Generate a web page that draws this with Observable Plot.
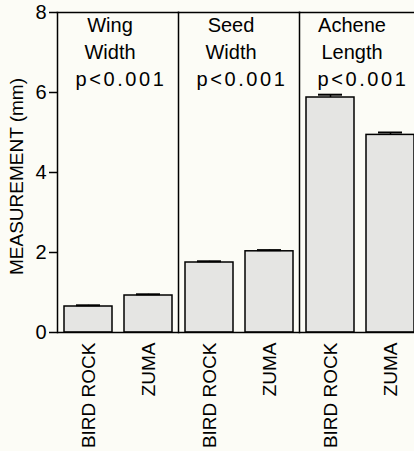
<!DOCTYPE html>
<html><head><meta charset="utf-8">
<script src="https://cdn.jsdelivr.net/npm/d3@7"></script>
<script src="https://cdn.jsdelivr.net/npm/@observablehq/plot@0.6"></script>
<style>
html,body{margin:0;padding:0;background:#fcfcf6;overflow:hidden}
#chart{width:414px;height:451px;overflow:hidden;position:relative}
#chart svg{max-width:none !important;height:451px !important;display:block}
</style></head><body><div id="chart"></div>
<script>
const panels = ["Wing\nWidth\np<0.001", "Seed\nWidth\np<0.001", "Achene\nLength\np<0.001"];
const sites = ["BIRD ROCK", "ZUMA"];
const means = [0.65, 0.925, 1.75, 2.03, 5.875, 4.94];
const errors = [0.03, 0.03, 0.03, 0.03, 0.07, 0.06];
const yTicks = [0, 2, 4, 6, 8];
const yLabel = "MEASUREMENT (mm)";

const data = means.map((m, i) => ({panel: panels[Math.floor(i / 2)], site: sites[i % 2], mean: m, hi: m + errors[i]}));
const titles = panels.map(p => ({panel: p, text: p}));

const chart = Plot.plot({
  width: 420, height: 451,
  marginLeft: 57, marginRight: 0, marginTop: 12, marginBottom: 119,
  style: {background: "#fcfcf6", color: "black", fontFamily: "Arial, 'Liberation Sans', sans-serif"},
  fx: {domain: panels, padding: 0, axis: null},
  x: {domain: sites, paddingInner: 0.2, paddingOuter: 0.1},
  y: {domain: [0, 8]},
  marks: [
    Plot.barY(data, {fx: "panel", x: "site", y: "mean", fill: "#e5e5e3", stroke: "black", strokeWidth: 1.5}),
    Plot.ruleX(data, {fx: "panel", x: "site", y1: "mean", y2: "hi", strokeWidth: 1.5}),
    Plot.tickY(data, {fx: "panel", x: "site", y: "hi", insetLeft: 12, insetRight: 12, strokeWidth: 2}),
    Plot.ruleY([0], {strokeWidth: 1.5}),
    Plot.frame({anchor: "left", strokeWidth: 1.5}),
    Plot.frame({anchor: "top", strokeWidth: 1.5}),
    Plot.text(titles, {fx: "panel", text: "text", frameAnchor: "top", dy: 0, dx: 0, fontSize: 20, lineHeight: 1.35, className: "ttl"}),
    Plot.text([{panel: panels[0], text: yLabel}], {fx: "panel", text: "text", frameAnchor: "left", textAnchor: "middle", rotate: -90, dx: -41, dy: 4, fontSize: 19}),
    Plot.axisY({ticks: yTicks, tickSize: 8, tickPadding: 3, fontSize: 20, label: null, strokeWidth: 1.5}),
    Plot.axisX({tickRotate: -90, tickSize: 0, tickPadding: 10, fontSize: 19, label: null})
  ]
});
document.getElementById("chart").appendChild(chart);
d3.select(chart).selectAll(".ttl tspan").attr("dx", -8);
d3.select(chart).selectAll(".ttl tspan:last-child").attr("dx", 3).style("letter-spacing", "2.6px");
</script>
</body></html>
